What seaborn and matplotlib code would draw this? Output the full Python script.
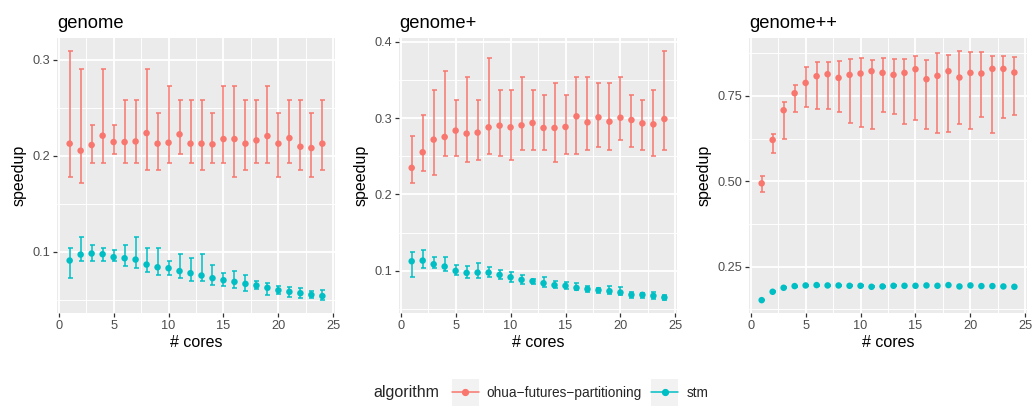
import numpy as np
import pandas as pd
import matplotlib
matplotlib.use("Agg")
import matplotlib.pyplot as plt
import seaborn as sns
from matplotlib.legend_handler import HandlerLine2D
from matplotlib.lines import Line2D
from matplotlib.patches import Rectangle
from matplotlib.ticker import MultipleLocator

# data
cores = list(range(1, 25))
panels = ["genome", "genome+", "genome++"]
algorithms = ["ohua\u2212futures\u2212partitioning", "stm"]

genome_ohua = [0.2127, 0.2054, 0.2113, 0.221, 0.2144, 0.2144, 0.215, 0.2237, 0.2127, 0.2137, 0.2224, 0.2127,
               0.2127, 0.212, 0.2175, 0.2175, 0.2127, 0.2161, 0.2206, 0.2127, 0.2185, 0.2095, 0.2081, 0.2127]
genome_ohua_lo = [0.178, 0.1714, 0.193, 0.193, 0.2016, 0.193, 0.193, 0.1853, 0.185, 0.193, 0.2016, 0.193,
                  0.185, 0.193, 0.193, 0.178, 0.185, 0.193, 0.193, 0.178, 0.193, 0.185, 0.178, 0.185]
genome_ohua_hi = [0.3097, 0.290, 0.232, 0.290, 0.232, 0.258, 0.258, 0.290, 0.2442, 0.273, 0.258, 0.258,
                  0.258, 0.2442, 0.273, 0.273, 0.258, 0.258, 0.273, 0.2442, 0.258, 0.258, 0.2442, 0.258]
genome_stm = [0.091, 0.0972, 0.0983, 0.0976, 0.0945, 0.0934, 0.092, 0.0868, 0.084, 0.083, 0.080, 0.0778,
              0.0754, 0.0726, 0.0705, 0.0688, 0.0667, 0.065, 0.0626, 0.060, 0.0584, 0.057, 0.0553, 0.054]
genome_stm_lo = [0.0726, 0.090, 0.090, 0.090, 0.090, 0.085, 0.083, 0.0789, 0.076, 0.076, 0.073, 0.0702,
                 0.0692, 0.066, 0.064, 0.0626, 0.0591, 0.061, 0.055, 0.056, 0.0532, 0.0515, 0.0515, 0.0494]
genome_stm_hi = [0.1045, 0.1153, 0.107, 0.1045, 0.1024, 0.107, 0.1153, 0.1045, 0.1045, 0.090, 0.098, 0.0938,
                 0.098, 0.0865, 0.0775, 0.0806, 0.076, 0.070, 0.0678, 0.064, 0.0636, 0.0622, 0.0594, 0.0598]

genomep_ohua = [0.2348, 0.2552, 0.2717, 0.2752, 0.2835, 0.2796, 0.2809, 0.2878, 0.290, 0.2878, 0.2904, 0.2935,
                0.287, 0.287, 0.2883, 0.3022, 0.2943, 0.3009, 0.2952, 0.3004, 0.2974, 0.293, 0.2917, 0.2987]
genomep_ohua_lo = [0.2152, 0.2313, 0.2248, 0.250, 0.250, 0.2426, 0.2457, 0.2535, 0.250, 0.2457, 0.2578, 0.2578,
                   0.2578, 0.2426, 0.2535, 0.2535, 0.2578, 0.2626, 0.2578, 0.2717, 0.2626, 0.2578, 0.250, 0.2578]
genomep_ohua_hi = [0.277, 0.3043, 0.337, 0.3609, 0.3239, 0.353, 0.3239, 0.3791, 0.337, 0.337, 0.353, 0.337,
                   0.3304, 0.3452, 0.3304, 0.353, 0.353, 0.3452, 0.3452, 0.353, 0.3304, 0.3239, 0.337, 0.3883]
genomep_stm = [0.1126, 0.1135, 0.1087, 0.1057, 0.100, 0.0974, 0.0978, 0.0978, 0.0948, 0.0917, 0.0883, 0.0865,
               0.0839, 0.0813, 0.0804, 0.0778, 0.0761, 0.0748, 0.0735, 0.0717, 0.0687, 0.0687, 0.0674, 0.0652]
genomep_stm_lo = [0.0922, 0.104, 0.104, 0.100, 0.0952, 0.0913, 0.0913, 0.0922, 0.0891, 0.0857, 0.0835, 0.0826,
                  0.0787, 0.077, 0.0761, 0.0748, 0.0726, 0.0717, 0.070, 0.0683, 0.0648, 0.0648, 0.063, 0.0613]
genomep_stm_hi = [0.1248, 0.127, 0.1183, 0.1183, 0.1074, 0.1065, 0.1104, 0.1057, 0.1013, 0.0987, 0.0952, 0.090,
                  0.0922, 0.0865, 0.0852, 0.0843, 0.0804, 0.0778, 0.0796, 0.0787, 0.0726, 0.0717, 0.0726, 0.0683]

genomepp_ohua = [0.4941, 0.6211, 0.708, 0.7578, 0.788, 0.8076, 0.8135, 0.8027, 0.8115, 0.8154, 0.8223, 0.8174,
                 0.8115, 0.8174, 0.8281, 0.7988, 0.8086, 0.8223, 0.8037, 0.8174, 0.8154, 0.8291, 0.8291, 0.8184]
genomepp_ohua_lo = [0.4688, 0.582, 0.623, 0.704, 0.7168, 0.7119, 0.712, 0.7021, 0.6719, 0.6602, 0.6523, 0.7021,
                    0.6973, 0.667, 0.6787, 0.6543, 0.6426, 0.6455, 0.6689, 0.6543, 0.6895, 0.6406, 0.6865, 0.6934]
genomepp_ohua_hi = [0.5166, 0.6377, 0.7334, 0.7832, 0.836, 0.8496, 0.8496, 0.8525, 0.8574, 0.8623, 0.8555, 0.8613,
                    0.8584, 0.8574, 0.8672, 0.8555, 0.875, 0.8691, 0.8828, 0.8779, 0.877, 0.8662, 0.8672, 0.8652]
genomepp_stm = [0.1523, 0.1768, 0.1885, 0.1934, 0.1953, 0.1963, 0.1953, 0.1953, 0.1943, 0.1943, 0.1914, 0.1924,
                0.1943, 0.1943, 0.1943, 0.1953, 0.1943, 0.1963, 0.1924, 0.1953, 0.1934, 0.1934, 0.1924, 0.1914]
genomepp_stm_lo = [0.1513, 0.1758, 0.1870, 0.1920, 0.1940, 0.1948, 0.1940, 0.1940, 0.1930, 0.1930, 0.1898, 0.1910,
                   0.1928, 0.1922, 0.1922, 0.1938, 0.1928, 0.1950, 0.1910, 0.1932, 0.1918, 0.1920, 0.1905, 0.1898]
genomepp_stm_hi = [0.1533, 0.1778, 0.1900, 0.1948, 0.1966, 0.1978, 0.1966, 0.1966, 0.1956, 0.1956, 0.1930, 0.1938,
                   0.1958, 0.1966, 0.1966, 0.1970, 0.1958, 0.1976, 0.1938, 0.1976, 0.1950, 0.1948, 0.1946, 0.1932]

series = {
    ("genome", algorithms[0]): (genome_ohua, genome_ohua_lo, genome_ohua_hi),
    ("genome", algorithms[1]): (genome_stm, genome_stm_lo, genome_stm_hi),
    ("genome+", algorithms[0]): (genomep_ohua, genomep_ohua_lo, genomep_ohua_hi),
    ("genome+", algorithms[1]): (genomep_stm, genomep_stm_lo, genomep_stm_hi),
    ("genome++", algorithms[0]): (genomepp_ohua, genomepp_ohua_lo, genomepp_ohua_hi),
    ("genome++", algorithms[1]): (genomepp_stm, genomepp_stm_lo, genomepp_stm_hi),
}

rows = []
for (panel, algo), (m, lo, hi) in series.items():
    for c, a, b, d in zip(cores, m, lo, hi):
        rows.append({"panel": panel, "algorithm": algo, "cores": c, "speedup": a, "lo": b, "hi": d})
df = pd.DataFrame(rows)

palette = {algorithms[0]: "#F8766D", algorithms[1]: "#00BFC4"}
yticks = {"genome": [0.1, 0.2, 0.3], "genome+": [0.1, 0.2, 0.3, 0.4], "genome++": [0.25, 0.50, 0.75]}
ytick_fmt = {"genome": "{:.1f}", "genome+": "{:.1f}", "genome++": "{:.2f}"}

sns.set_theme(style="darkgrid", rc={
    "axes.facecolor": "#EBEBEB",
    "grid.color": "white",
    "axes.edgecolor": "none",
})
plt.rcParams["font.family"] = ["Liberation Sans", "DejaVu Sans"]

fig = plt.figure(figsize=(10.33, 4.07), dpi=100)
lefts = [0.0552, 0.3863, 0.7251]
width = 0.2691
bottom, top = 0.231, 0.9066

for i, panel in enumerate(panels):
    ax = fig.add_axes([lefts[i], bottom, width, top - bottom])
    sub = df[df.panel == panel]
    for algo in algorithms:
        s = sub[sub.algorithm == algo]
        ax.errorbar(s.cores, s.speedup, yerr=[s.speedup - s.lo, s.hi - s.speedup], fmt="none",
                    ecolor=palette[algo], elinewidth=1.1, capsize=1.8, capthick=1.1, zorder=2)
    sns.scatterplot(data=sub, x="cores", y="speedup", hue="algorithm", palette=palette,
                    s=22, edgecolor="none", legend=False, ax=ax, zorder=3)

    lo_all, hi_all = sub.lo.min(), sub.hi.max()
    pad = (hi_all - lo_all) * 0.05
    ax.set_ylim(lo_all - pad, hi_all + pad)
    ax.set_xlim(1 - 23 * 0.05, 24 + 23 * 0.05)

    ax.set_xticks([0, 5, 10, 15, 20, 25])
    ax.xaxis.set_minor_locator(MultipleLocator(2.5))
    yt = yticks[panel]
    ax.set_yticks(yt)
    ax.set_yticklabels([ytick_fmt[panel].format(v) for v in yt])
    ax.yaxis.set_minor_locator(MultipleLocator((yt[1] - yt[0]) / 2))

    ax.grid(which="major", color="white", linewidth=1.3)
    ax.grid(which="minor", color="white", linewidth=0.65)
    ax.tick_params(which="major", length=3, width=0.9, color="#333333", labelcolor="#4D4D4D",
                   labelsize=9.2, pad=2, bottom=True, left=True)
    ax.tick_params(which="minor", length=0)
    for sp in ax.spines.values():
        sp.set_visible(False)

    ax.set_xlabel("# cores", fontsize=11.5, color="black", labelpad=2)
    ax.set_ylabel("speedup", fontsize=11.5, color="black", labelpad=4)
    ax.set_title(panel, loc="left", fontsize=13.2, color="black", pad=7)


class KeyHandler(HandlerLine2D):
    # grey square key background like ggplot legend keys
    def create_artists(self, legend, orig_handle, xdescent, ydescent, width, height, fontsize, trans):
        side = width
        bg = Rectangle((-xdescent, -ydescent + height / 2 - side / 2), side, side,
                       facecolor="#F2F2F2", edgecolor="none", transform=trans)
        arts = super().create_artists(legend, orig_handle, xdescent, ydescent, width, height, fontsize, trans)
        return [bg] + list(arts)


handles = [Line2D([], [], color=palette[a], marker="o", markersize=4.2, linewidth=1.1) for a in algorithms]
fig.text(373 / 1033, 1 - 393 / 407, "algorithm", fontsize=11.5, ha="left", va="center")
fig.legend(handles, algorithms, loc="center left", bbox_to_anchor=(452 / 1033, 1 - 393 / 407),
           ncol=2, frameon=False, fontsize=9.8, handlelength=1.95, handleheight=1.1,
           handletextpad=0.6, columnspacing=0.7, borderpad=0, borderaxespad=0,
           handler_map={Line2D: KeyHandler()})

plt.savefig("out.png", dpi=100)
plt.close()
